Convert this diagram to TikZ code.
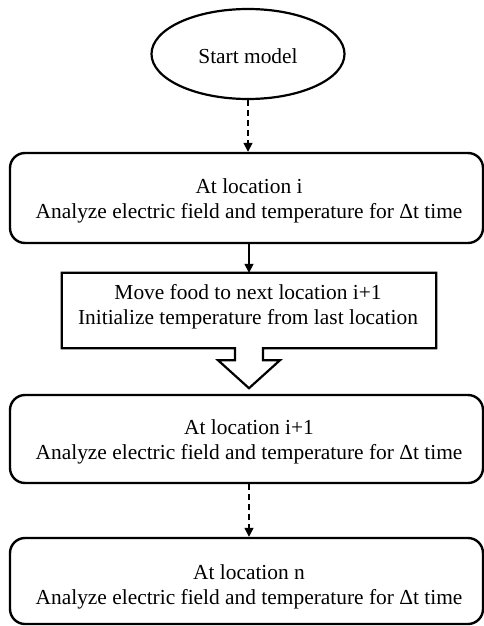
\documentclass[tikz,border=0pt]{standalone}
\usepackage{fontspec}
\setmainfont{Liberation Serif}
\usetikzlibrary{shapes.geometric,arrows.meta,calc}
\begin{document}
\begin{tikzpicture}[x=1pt,y=-1pt,
  txt/.style={font=\fontsize{21.4}{25}\selectfont, align=center, inner sep=0pt},
  rbox/.style={draw, line width=2.4pt, rounded corners=15pt, minimum width=473pt, inner sep=0pt},
  conn/.style={line width=1.6pt, -{Triangle[length=9pt,width=9pt]}},
  dconn/.style={conn, dash pattern=on 6pt off 4pt}]
\useasboundingbox (0,0) rectangle (484,626);
\node[draw, ellipse, line width=2.2pt, minimum width=193pt, minimum height=90pt, inner sep=0pt] (start) at (248,54) {};
\node[txt] (tstart) at (248,56) {Start model};
\node[rbox, minimum height=90pt] (b1) at (246.5,198) {};
\node[txt] (t1) at (249,201) {At location i\\Analyze electric field and temperature for Δt time};
\node[minimum width=374pt, minimum height=75pt, inner sep=0pt] (m) at (249,310.5) {};
\node[txt] (tm) at (248,307) {Move food to next location i+1\\Initialize temperature from last location};
\node[rbox, minimum height=88pt] (b3) at (246.5,439) {};
\node[txt] (t3) at (249,442) {At location i+1\\Analyze electric field and temperature for Δt time};
\node[rbox, minimum height=86pt] (b4) at (246.5,581) {};
\node[txt] (t4) at (249,587) {At location n\\Analyze electric field and temperature for Δt time};
\coordinate (tip) at ($(m.south)+(0,40)$);
\draw[line width=2.2pt, line join=miter] (m.north west) -- (m.north east) -- (m.south east)
  -- ($(m.south)+(14,0)$) -- ($(m.south)+(14,12)$) -- ($(m.south)+(31,12)$) -- (tip)
  -- ($(m.south)+(-31,12)$) -- ($(m.south)+(-14,12)$) -- ($(m.south)+(-14,0)$)
  -- (m.south west) -- cycle;
\draw[dconn] (start.south) -- (b1.north -| start.south);
\draw[conn] (b1.south -| m.north) -- (m.north);
\draw[dconn] (b3.south -| m.north) -- (b4.north -| m.north);
\end{tikzpicture}
\end{document}
